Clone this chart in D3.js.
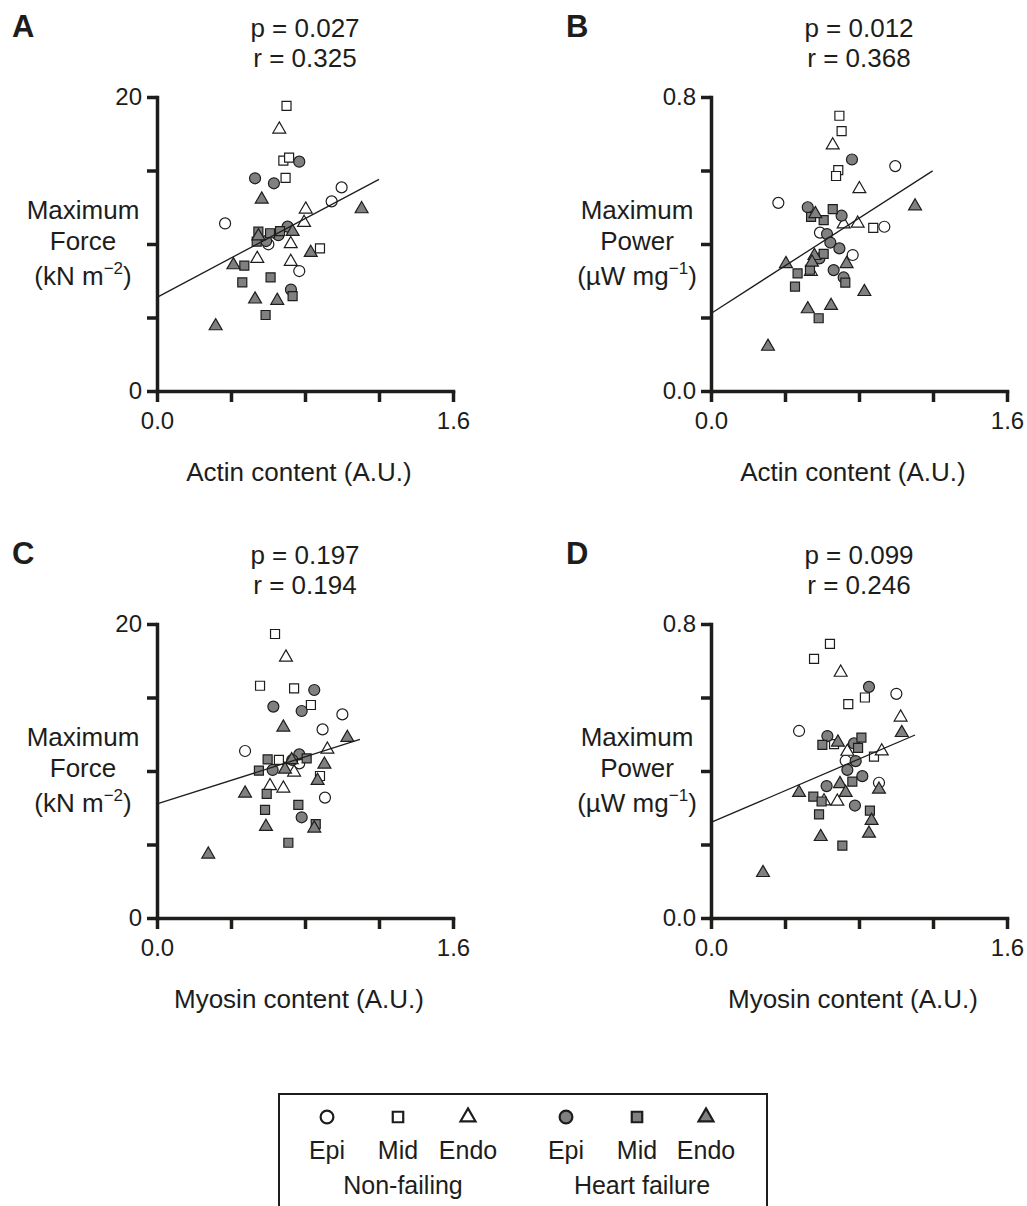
<!DOCTYPE html>
<html>
<head>
<meta charset="utf-8">
<script src="https://cdn.jsdelivr.net/npm/d3@7"></script>
<style>
  body { margin: 0; background: #fff; }
  svg { display: block; font-family: "Liberation Sans", Arial, Helvetica, sans-serif; }
</style>
</head>
<body>
<script>
// GROUPS : 0-2 non-failing, 3-5 heart failure
var groupNames = ["Epi", "Mid", "Endo", "Epi", "Mid", "Endo"];
var conditionNames = ["Non-failing", "Heart failure"];

// DATA [x, y, group]
// A : actin content vs maximum force
var actinForce = [
  [0.368, 11.4, 0], [0.944, 12.9, 0], [0.998, 13.85, 0], [0.602, 9.98, 0], [0.769, 8.16, 0],
  [0.700, 19.4, 1], [0.683, 15.67, 1], [0.714, 15.87, 1], [0.695, 14.5, 1], [0.881, 9.7, 1],
  [0.661, 17.8, 2], [0.804, 12.36, 2], [0.795, 11.45, 2], [0.723, 10.0, 2], [0.542, 9.0, 2], [0.723, 8.8, 2],
  [0.769, 15.6, 3], [0.530, 14.47, 3], [0.632, 14.13, 3], [0.706, 11.18, 3], [0.656, 10.6, 3], [0.724, 6.9, 3], [0.590, 10.2, 3],
  [0.548, 10.84, 4], [0.611, 10.73, 4], [0.665, 10.88, 4], [0.539, 10.16, 4], [0.472, 8.53, 4], [0.461, 7.39, 4], [0.614, 7.73, 4], [0.733, 6.46, 4], [0.587, 5.17, 4],
  [0.566, 13.04, 5], [1.106, 12.38, 5], [0.548, 10.54, 5], [0.733, 10.84, 5], [0.831, 9.41, 5], [0.413, 8.57, 5], [0.530, 6.24, 5], [0.650, 6.15, 5], [0.317, 4.42, 5]
];
// B : actin content vs maximum power
var actinPower = [
  [0.996, 0.612, 0], [0.364, 0.512, 0], [0.937, 0.447, 0], [0.589, 0.431, 0], [0.766, 0.370, 0],
  [0.694, 0.749, 1], [0.706, 0.707, 1], [0.688, 0.601, 1], [0.676, 0.585, 1], [0.877, 0.444, 1],
  [0.658, 0.669, 2], [0.802, 0.550, 2], [0.717, 0.454, 2], [0.793, 0.456, 2], [0.540, 0.325, 2],
  [0.762, 0.630, 3], [0.523, 0.500, 3], [0.706, 0.477, 3], [0.627, 0.427, 3], [0.645, 0.404, 3], [0.694, 0.388, 3], [0.663, 0.329, 3], [0.717, 0.309, 3], [0.586, 0.361, 3],
  [0.658, 0.495, 4], [0.541, 0.474, 4], [0.609, 0.465, 4], [0.609, 0.373, 4], [0.468, 0.320, 4], [0.454, 0.284, 4], [0.726, 0.295, 4], [0.582, 0.198, 4], [0.535, 0.330, 4],
  [1.103, 0.503, 5], [0.564, 0.482, 5], [0.405, 0.346, 5], [0.559, 0.368, 5], [0.546, 0.350, 5], [0.733, 0.346, 5], [0.829, 0.270, 5], [0.523, 0.223, 5], [0.649, 0.232, 5], [0.308, 0.121, 5]
];
// C : myosin content vs maximum force
var myosinForce = [
  [0.476, 11.36, 0], [1.002, 13.85, 0], [0.895, 12.83, 0], [0.908, 8.19, 0], [0.769, 10.52, 0],
  [0.638, 19.32, 1], [0.557, 15.8, 1], [0.741, 15.62, 1], [0.832, 14.49, 1], [0.881, 9.66, 1], [0.659, 10.75, 1],
  [0.697, 17.73, 2], [0.921, 11.47, 2], [0.611, 8.98, 2], [0.683, 8.82, 2], [0.741, 9.91, 2],
  [0.850, 15.51, 3], [0.629, 14.38, 3], [0.782, 14.08, 3], [0.625, 10.07, 3], [0.769, 11.13, 3], [0.731, 10.75, 3], [0.782, 6.85, 3],
  [0.598, 10.79, 4], [0.551, 10.02, 4], [0.809, 10.86, 4], [0.593, 8.44, 4], [0.764, 7.69, 4], [0.584, 7.35, 4], [0.858, 6.39, 4], [0.710, 5.12, 4],
  [0.683, 12.97, 5], [1.029, 12.27, 5], [0.728, 10.75, 5], [0.905, 10.45, 5], [0.692, 10.11, 5], [0.868, 9.34, 5], [0.476, 8.48, 5], [0.589, 6.21, 5], [0.850, 6.1, 5], [0.277, 4.33, 5]
];
// D : myosin content vs maximum power
var myosinPower = [
  [0.476, 0.509, 0], [1.002, 0.610, 0], [0.728, 0.428, 0], [0.908, 0.368, 0],
  [0.643, 0.746, 1], [0.557, 0.705, 1], [0.832, 0.600, 1], [0.742, 0.582, 1], [0.881, 0.439, 1], [0.665, 0.473, 1],
  [0.701, 0.668, 2], [1.025, 0.546, 2], [0.737, 0.453, 2], [0.923, 0.454, 2], [0.611, 0.318, 2], [0.683, 0.317, 2],
  [0.854, 0.629, 3], [0.629, 0.495, 3], [0.773, 0.475, 3], [0.782, 0.427, 3], [0.737, 0.403, 3], [0.818, 0.386, 3], [0.625, 0.359, 3], [0.778, 0.306, 3],
  [0.813, 0.491, 4], [0.795, 0.463, 4], [0.602, 0.471, 4], [0.764, 0.371, 4], [0.553, 0.330, 4], [0.598, 0.317, 4], [0.859, 0.292, 4], [0.584, 0.282, 4], [0.710, 0.197, 4],
  [1.031, 0.504, 5], [0.686, 0.478, 5], [0.697, 0.365, 5], [0.728, 0.341, 5], [0.908, 0.350, 5], [0.476, 0.341, 5], [0.868, 0.265, 5], [0.854, 0.230, 5], [0.593, 0.221, 5], [0.281, 0.123, 5]
];

// REGRESSION LINES (start, end)
var fitActinForce = [[0, 6.37], [1.2, 14.4]];
var fitActinPower = [[0, 0.211], [1.198, 0.599]];
var fitMyosinForce = [[0, 7.76], [1.097, 12.15]];
var fitMyosinPower = [[0, 0.26], [1.103, 0.498]];

// STATS
var pValues = ["0.027", "0.012", "0.197", "0.099"];
var rValues = ["0.325", "0.368", "0.194", "0.246"];

// TICKS
var xTicks = [0, 0.4, 0.8, 1.2, 1.6];
var forceTicks = [0, 5, 10, 15, 20];
var powerTicks = [0, 0.2, 0.4, 0.6, 0.8];


// DRAWING AREA
var width = 1027;
var height = 1206;
var plotW = 296;
var plotH = 294;
var ink = "#1d1d1b";
var grey = "#808080";

var svg = d3.select("body").append("svg")
  .attr("width", width)
  .attr("height", height);

var panels = [
  { letter: "A", left: 157, top: 97, data: actinForce, fit: fitActinForce, yTicks: forceTicks, yFmt: d3.format("d"),
    yLabel: ["Maximum", "Force"], unit: ["(kN m", "\u22122", ")"], xLabel: "Actin content (A.U.)" },
  { letter: "B", left: 711, top: 97, data: actinPower, fit: fitActinPower, yTicks: powerTicks, yFmt: d3.format(".1f"),
    yLabel: ["Maximum", "Power"], unit: ["(\u00b5W mg", "\u22121", ")"], xLabel: "Actin content (A.U.)" },
  { letter: "C", left: 157, top: 624, data: myosinForce, fit: fitMyosinForce, yTicks: forceTicks, yFmt: d3.format("d"),
    yLabel: ["Maximum", "Force"], unit: ["(kN m", "\u22122", ")"], xLabel: "Myosin content (A.U.)" },
  { letter: "D", left: 711, top: 624, data: myosinPower, fit: fitMyosinPower, yTicks: powerTicks, yFmt: d3.format(".1f"),
    yLabel: ["Maximum", "Power"], unit: ["(\u00b5W mg", "\u22121", ")"], xLabel: "Myosin content (A.U.)" }
];

// SYMBOLS
var shapeOf = [d3.symbolCircle, d3.symbolSquare, d3.symbolTriangle];
var sizeOf = [95, 81, 72];
function symbolPath(g, scale) {
  var k = g % 3;
  return d3.symbol().type(shapeOf[k]).size(sizeOf[k] * (scale || 1))();
}
function fillOf(g) { return g < 3 ? "#fff" : grey; }

panels.forEach(function(p, i) { drawPanel(p, i); });
drawLegend();


function drawPanel(p, i) {
  var g = svg.append("g")
    .attr("transform", "translate(" + p.left + "," + p.top + ")");

  var xScale = d3.scaleLinear().domain([0, 1.6]).range([0, plotW]);
  var yMax = p.yTicks[p.yTicks.length - 1];
  var yScale = d3.scaleLinear().domain([0, yMax]).range([plotH, 0]);

  // AXES
  var xAxis = d3.axisBottom(xScale)
    .tickValues(xTicks)
    .tickFormat(function(d) { return (d === 0 || d === 1.6) ? d3.format(".1f")(d) : ""; })
    .tickSize(11).tickSizeOuter(0).tickPadding(10);
  var yAxis = d3.axisLeft(yScale)
    .tickValues(p.yTicks)
    .tickFormat(function(d) { return (d === 0 || d === yMax) ? p.yFmt(d) : ""; })
    .tickSize(10).tickSizeOuter(0).tickPadding(5);

  [g.append("g").attr("transform", "translate(0," + plotH + ")").call(xAxis),
   g.append("g").call(yAxis)].forEach(function(ax) {
    ax.attr("font-family", null).attr("font-size", 24);
    ax.select(".domain").attr("stroke", ink).attr("stroke-width", 3.5).attr("stroke-linecap", "square");
    ax.selectAll(".tick line").attr("stroke", ink).attr("stroke-width", 3.5);
    ax.selectAll(".tick text").attr("fill", ink);
  });

  // POINTS
  g.selectAll("path.pt")
    .data(p.data)
    .enter()
    .append("path")
    .attr("class", "pt")
    .attr("transform", function(d) { return "translate(" + xScale(d[0]) + "," + yScale(d[1]) + ")"; })
    .attr("d", function(d) { return symbolPath(d[2]); })
    .attr("fill", function(d) { return fillOf(d[2]); })
    .attr("stroke", ink)
    .attr("stroke-width", 1.2);

  // REGRESSION LINE
  g.append("line")
    .attr("x1", xScale(p.fit[0][0])).attr("y1", yScale(p.fit[0][1]))
    .attr("x2", xScale(p.fit[1][0])).attr("y2", yScale(p.fit[1][1]))
    .attr("stroke", ink)
    .attr("stroke-width", 1.3);

  // STATS TEXT
  var cx = plotW / 2;
  g.append("text").text("p = " + pValues[i])
    .attr("x", cx).attr("y", -60).attr("text-anchor", "middle")
    .attr("font-size", 26).attr("fill", ink);
  g.append("text").text("r = " + rValues[i])
    .attr("x", cx).attr("y", -30).attr("text-anchor", "middle")
    .attr("font-size", 26).attr("fill", ink);

  // PANEL LETTER
  svg.append("text").text(p.letter)
    .attr("x", p.left - 145).attr("y", p.top - 60)
    .attr("font-size", 31).attr("font-weight", "bold").attr("fill", ink);

  // Y LABEL
  var lx = -74;
  g.append("text").text(p.yLabel[0])
    .attr("x", lx).attr("y", 122).attr("text-anchor", "middle")
    .attr("font-size", 26).attr("fill", ink);
  g.append("text").text(p.yLabel[1])
    .attr("x", lx).attr("y", 153).attr("text-anchor", "middle")
    .attr("font-size", 26).attr("fill", ink);
  var u = g.append("text")
    .attr("x", lx).attr("y", 188).attr("text-anchor", "middle")
    .attr("font-size", 26).attr("fill", ink);
  u.append("tspan").text(p.unit[0]);
  u.append("tspan").text(p.unit[1]).attr("font-size", 17).attr("dy", -11);
  u.append("tspan").text(p.unit[2]).attr("dy", 11);

  // X LABEL
  g.append("text").text(p.xLabel)
    .attr("x", cx - 6).attr("y", plotH + 90).attr("text-anchor", "middle")
    .attr("font-size", 26).attr("fill", ink);
}


function drawLegend() {
  var legend = svg.append("g");
  legend.append("rect")
    .attr("x", 279).attr("y", 1094)
    .attr("width", 488).attr("height", 160)
    .attr("fill", "none")
    .attr("stroke", ink)
    .attr("stroke-width", 2);

  var legendX = [327, 398, 468, 566, 637, 706];
  groupNames.forEach(function(name, gi) {
    legend.append("path")
      .attr("transform", "translate(" + legendX[gi] + ",1117)")
      .attr("d", symbolPath(gi, 1.35))
      .attr("fill", fillOf(gi))
      .attr("stroke", ink)
      .attr("stroke-width", 2.2);
    legend.append("text").text(name)
      .attr("x", legendX[gi]).attr("y", 1159)
      .attr("text-anchor", "middle")
      .attr("font-size", 25).attr("fill", ink);
  });
  conditionNames.forEach(function(name, ci) {
    legend.append("text").text(name)
      .attr("x", ci === 0 ? 403 : 642).attr("y", 1194)
      .attr("text-anchor", "middle")
      .attr("font-size", 25).attr("fill", ink);
  });
}
</script>
</body>
</html>
